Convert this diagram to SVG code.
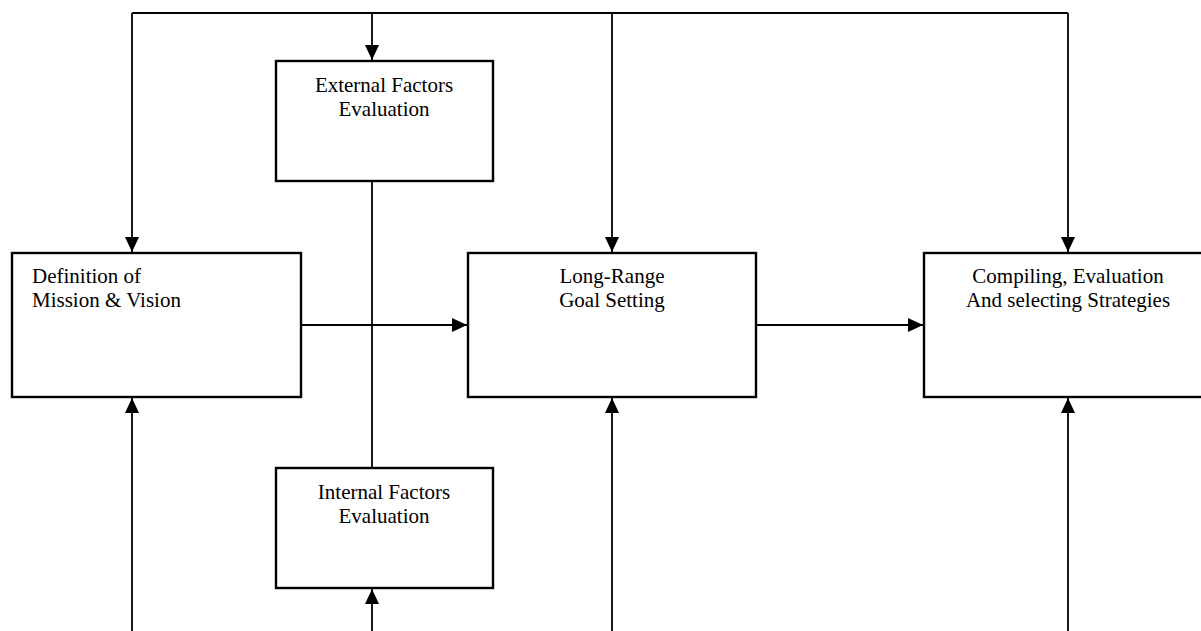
<svg xmlns="http://www.w3.org/2000/svg" width="1201" height="631" viewBox="0 0 1201 631">
<style>
.box{fill:#fff;stroke:#000;stroke-width:2.4}
.ln{fill:none;stroke:#000;stroke-width:1.8}
.t{font-family:"Liberation Serif","Times New Roman",serif;font-size:21px;fill:#000}
.c{text-anchor:middle}
</style>
<defs>
<marker id="ah" markerWidth="15" markerHeight="14" refX="15" refY="7" orient="auto" markerUnits="userSpaceOnUse">
<path d="M0,0 L15,7 L0,14 Z" fill="#000"/>
</marker>
</defs>
<rect width="1201" height="631" fill="#fff"/>
<g id="connectors">
<path class="ln" d="M132,13 H1068"/>
<path class="ln" d="M132,13 V252" marker-end="url(#ah)"/>
<path class="ln" d="M372,13 V60" marker-end="url(#ah)"/>
<path class="ln" d="M612,13 V252" marker-end="url(#ah)"/>
<path class="ln" d="M1068,13 V252" marker-end="url(#ah)"/>
<path class="ln" d="M372,181 V468"/>
<path class="ln" d="M301,325 H467" marker-end="url(#ah)"/>
<path class="ln" d="M756,325 H923" marker-end="url(#ah)"/>
<path class="ln" d="M132,631 V398" marker-end="url(#ah)"/>
<path class="ln" d="M612,631 V398" marker-end="url(#ah)"/>
<path class="ln" d="M1068,631 V398" marker-end="url(#ah)"/>
<path class="ln" d="M372,631 V589" marker-end="url(#ah)"/>
</g>
<g id="external">
<rect class="box" x="276" y="61" width="217" height="120"/>
<text class="t c" x="384" y="92">External Factors</text>
<text class="t c" x="384" y="116">Evaluation</text>
</g>
<g id="definition">
<rect class="box" x="12" y="253" width="289" height="144"/>
<text class="t" x="32" y="283">Definition of</text>
<text class="t" x="32" y="307">Mission &amp; Vision</text>
</g>
<g id="longrange">
<rect class="box" x="468" y="253" width="288" height="144"/>
<text class="t c" x="612" y="283">Long-Range</text>
<text class="t c" x="612" y="307">Goal Setting</text>
</g>
<g id="compiling">
<rect class="box" x="924" y="253" width="290" height="144"/>
<text class="t c" x="1068" y="283">Compiling, Evaluation</text>
<text class="t c" x="1068" y="307">And selecting Strategies</text>
</g>
<g id="internal">
<rect class="box" x="276" y="468" width="217" height="120"/>
<text class="t c" x="384" y="499">Internal Factors</text>
<text class="t c" x="384" y="523">Evaluation</text>
</g>
</svg>
